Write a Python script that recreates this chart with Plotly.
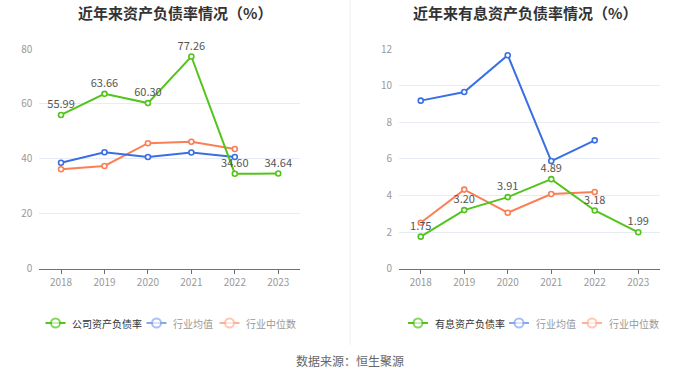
import plotly.graph_objects as go

years = ["2018", "2019", "2020", "2021", "2022", "2023"]

# Left chart: 资产负债率
company_debt = [55.99, 63.66, 60.30, 77.26, 34.60, 34.64]
industry_avg_debt = [38.6, 42.4, 40.7, 42.3, 40.7]
industry_med_debt = [36.2, 37.4, 45.7, 46.2, 43.6]

# Right chart: 有息资产负债率
company_int = [1.75, 3.20, 3.91, 4.89, 3.18, 1.99]
industry_avg_int = [9.18, 9.65, 11.66, 5.88, 7.01]
industry_med_int = [2.51, 4.32, 3.06, 4.08, 4.19]

legend_left = ["公司资产负债率", "行业均值", "行业中位数"]
legend_right = ["有息资产负债率", "行业均值", "行业中位数"]

GREEN = "#52c41a"
BLUE = "#3a6fe4"
ORANGE = "#fb7f55"
LEG_COLORS = ["#52c41a", "#86a6ef", "#fdb195"]
LEG_TEXT = ["#333", "#999", "#999"]
FONT = "Noto Sans CJK SC"

W, H = 700, 378


def px(X):
    return X / W


def py(Y):
    return (H - Y) / H


fig = go.Figure()


def add_series(x, y, color, xa, ya, labels=False):
    fig.add_trace(go.Scatter(
        x=x, y=y, mode="lines+markers+text" if labels else "lines+markers",
        line=dict(color=color, width=2),
        marker=dict(symbol="circle", size=5, color="white", line=dict(color=color, width=1.6)),
        text=[f"{v:.2f}" for v in y] if labels else None,
        textposition="top center",
        textfont=dict(family=FONT, size=11, color="#555"),
        xaxis=xa, yaxis=ya, showlegend=False, hoverinfo="x+y", cliponaxis=False,
    ))


add_series(years[:5], industry_med_debt, ORANGE, "x", "y")
add_series(years[:5], industry_avg_debt, BLUE, "x", "y")
add_series(years, company_debt, GREEN, "x", "y", labels=True)

add_series(years[:5], industry_med_int, ORANGE, "x2", "y2")
add_series(years[:5], industry_avg_int, BLUE, "x2", "y2")
add_series(years, company_int, GREEN, "x2", "y2", labels=True)

# manual legends (window-pixel overlay axis)
LEG_Y = 323
left_sym = [55.5, 156.5, 229.5]
right_sym = [c + 362.5 for c in left_sym]
annotations = []
for syms, names in ((left_sym, legend_left), (right_sym, legend_right)):
    for cx, name, col, tcol in zip(syms, names, LEG_COLORS, LEG_TEXT):
        fig.add_trace(go.Scatter(
            x=[cx - 10, cx, cx + 10], y=[LEG_Y] * 3, mode="lines+markers",
            line=dict(color=col, width=2),
            marker=dict(symbol="circle", size=[0, 9, 0], color="white", line=dict(color=col, width=2)),
            xaxis="x3", yaxis="y3", showlegend=False, hoverinfo="skip",
        ))
        annotations.append(dict(
            text=name, x=cx + 14.5, y=LEG_Y, xref="x3", yref="y3", showarrow=False,
            xanchor="left", yanchor="middle", font=dict(family=FONT, size=10, color=tcol),
        ))

xaxis_common = dict(
    type="category", range=[-0.5, 5.5], showgrid=False,
    showline=True, linecolor="#6e7079", linewidth=1,
    ticks="outside", ticklen=4, tickcolor="#6e7079",
    tickfont=dict(family=FONT, size=10, color="#999"),
    fixedrange=True, zeroline=False, automargin=False,
)
yaxis_common = dict(
    showgrid=True, gridcolor="#e6ebf5", gridwidth=1, zeroline=False,
    showline=False, ticks="", tickfont=dict(family=FONT, size=10, color="#999"),
    domain=[py(268.7), py(49)], fixedrange=True, automargin=False, ticklabelstandoff=6,
)

annotations += [
    dict(text="<b>近年来资产负债率情况（%）</b>", x=px(175), y=py(12),
         xref="paper", yref="paper", showarrow=False, xanchor="center", yanchor="middle",
         font=dict(family=FONT, size=15, color="#333")),
    dict(text="<b>近年来有息资产负债率情况（%）</b>", x=px(525), y=py(12),
         xref="paper", yref="paper", showarrow=False, xanchor="center", yanchor="middle",
         font=dict(family=FONT, size=15, color="#333")),
    dict(text="数据来源：恒生聚源", x=px(350), y=py(360),
         xref="paper", yref="paper", showarrow=False, xanchor="center", yanchor="middle",
         font=dict(family=FONT, size=12, color="#666")),
]

fig.update_layout(
    width=W, height=H,
    margin=dict(l=0, r=0, t=0, b=0),
    paper_bgcolor="white", plot_bgcolor="rgba(0,0,0,0)",
    font=dict(family=FONT),
    showlegend=False,
    hovermode=False,
    xaxis=dict(**xaxis_common, domain=[px(39.3), px(300)], anchor="y"),
    yaxis=dict(**yaxis_common, range=[0, 80], dtick=20, anchor="x"),
    xaxis2=dict(**xaxis_common, domain=[px(399), px(660)], anchor="y2"),
    yaxis2=dict(**yaxis_common, range=[0, 12], dtick=2, anchor="x2"),
    xaxis3=dict(domain=[0, 1], range=[0, W], visible=False, fixedrange=True, anchor="y3"),
    yaxis3=dict(domain=[0, 1], range=[H, 0], visible=False, fixedrange=True, anchor="x3"),
    annotations=annotations,
    shapes=[
        dict(type="line", xref="paper", yref="paper", x0=px(350), x1=px(350),
             y0=py(345), y1=1, line=dict(color="#f0f0f0", width=1)),
    ],
)

fig.write_html(
    "out.html",
    config={"displayModeBar": False, "staticPlot": True},
    post_script="document.body.style.margin='0';document.body.style.overflow='hidden';",
)
